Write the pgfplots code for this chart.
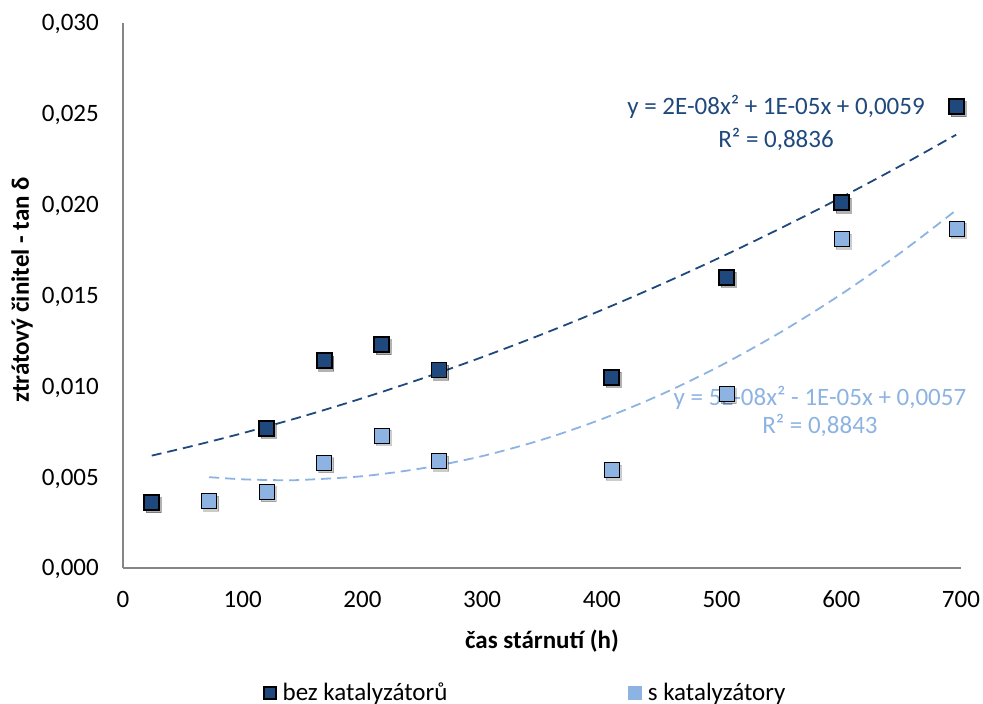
\documentclass[border=0pt]{standalone}
\usepackage{pgfplots}
\usepackage{pgfplotstable}
\pgfplotsset{compat=1.18}
\usepackage{fontspec}
\setmainfont{Carlito}
\definecolor{darkb}{HTML}{1F497D}
\definecolor{lightb}{HTML}{8DB3E2}
\definecolor{axgray}{HTML}{868686}
\newcommand{\fs}{\fontsize{25}{30}\selectfont}

\pgfplotstableread{
x y
24 0.0036
120 0.0077
168 0.0114
216 0.0123
264 0.0109
408 0.0105
504 0.0160
600 0.0201
696 0.0254
}\bez
\pgfplotstableread{
x y
72 0.0037
120 0.0042
168 0.0058
216 0.0073
264 0.0059
408 0.0054
504 0.0096
600 0.0181
696 0.0187
}\skat
\pgfplotstableread{
x y
24 0.006185
60 0.006748
100 0.007423
150 0.008343
200 0.009347
250 0.010434
300 0.011606
350 0.012862
400 0.014201
450 0.015625
500 0.017133
550 0.018724
600 0.020399
650 0.022159
696 0.023851
}\bezfit
\pgfplotstableread{
x y
72 0.005000
100 0.004881
130 0.004834
150 0.004850
200 0.005053
250 0.005489
300 0.006158
350 0.007061
400 0.008197
450 0.009566
500 0.011168
550 0.013004
600 0.015073
650 0.017375
696 0.019700
}\skatfit

\begin{document}
\begin{tikzpicture}[font=\fs]
\path[use as bounding box] (-123pt,-136pt) rectangle (860pt,568pt);
\begin{axis}[
  at={(0pt,0pt)}, anchor=south west,
  scale only axis, width=838pt, height=545pt,
  xmin=0, xmax=700, ymin=0, ymax=0.030,
  axis lines*=left,
  axis line style={draw=axgray, line width=2pt},
  major tick length=0pt,
  xtick={0,100,200,300,400,500,600,700},
  ytick={0,0.005,0.010,0.015,0.020,0.025,0.030},
  scaled y ticks=false,
  /pgf/number format/assume math mode=true,
  yticklabel style={font=\fs, anchor=base east, inner sep=0pt, xshift=-24pt, yshift=-8pt,
    /pgf/number format/fixed, /pgf/number format/fixed zerofill, /pgf/number format/precision=3, /pgf/number format/use comma},
  xticklabel style={font=\fs, anchor=base, inner sep=0pt, yshift=-40pt},
  xlabel={čas stárnutí (h)},
  ylabel={ztrátový činitel - tan δ},
  xlabel style={font=\fs\bfseries, at={(axis description cs:0.5,-0.1468)}, anchor=base, inner sep=0pt},
  ylabel style={font=\fs\bfseries, at={(axis description cs:-0.1205,0.51)}, anchor=center, inner sep=0pt},
  clip=false,
  legend columns=2,
  legend style={draw=none, fill=none, font=\fs, at={(axis description cs:0.167,-0.229)}, anchor=west, inner sep=0pt,
    /tikz/every odd column/.append style={column sep=4pt},
    /tikz/every even column/.append style={column sep=179pt}},
]
\addplot[only marks, mark=square*, mark size=7.5pt, mark options={fill=black, draw=none, opacity=0.3, xshift=2pt, yshift=-2.5pt}, forget plot] table {\bez};
\addplot[only marks, mark=square*, mark size=7.5pt, mark options={fill=black, draw=none, opacity=0.2, xshift=2pt, yshift=-2.5pt}, forget plot] table {\skat};
\addplot[darkb, line width=1.8pt, dash pattern=on 10pt off 6pt, smooth, forget plot] table {\bezfit};
\addplot[lightb, line width=1.8pt, dash pattern=on 10pt off 6pt, smooth, forget plot] table {\skatfit};
\node[darkb, anchor=base] at (axis cs:545.5,0.02494) {y = 2E-08x² + 1E-05x + 0,0059};
\node[darkb, anchor=base] at (axis cs:545.5,0.02317) {R² = 0,8836};
\node[lightb, anchor=base] at (axis cs:582.2,0.00897) {y = 5E-08x² - 1E-05x + 0,0057};
\node[lightb, anchor=base] at (axis cs:582.2,0.00738) {R² = 0,8843};
\addplot[only marks, mark=square*, mark size=7.5pt, mark options={fill=darkb, draw=black, line width=1.8pt},
  legend image code/.code={\draw[fill=darkb, draw=black, line width=1.5pt] (0pt,-6pt) rectangle (12pt,6pt);}] table {\bez};
\addlegendentry{bez katalyzátorů}
\addplot[only marks, mark=square*, mark size=7.5pt, mark options={fill=lightb, draw=none},
  legend image code/.code={\fill[lightb] (0pt,-6.5pt) rectangle (13pt,6.5pt);}] table {\skat};
\addlegendentry{s katalyzátory}
\end{axis}
\end{tikzpicture}
\end{document}
